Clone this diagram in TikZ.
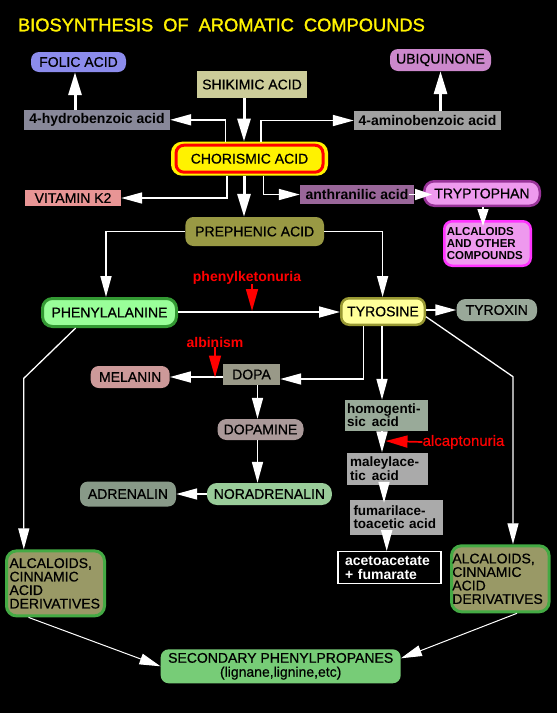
\documentclass[tikz,border=0pt]{standalone}
\usepackage{fontspec}
\setmainfont{Liberation Sans}
\newfontfamily\heavy[FakeBold=0.6]{Liberation Sans}
\newfontfamily\titlefont[FakeBold=1.6]{Liberation Sans}
\usetikzlibrary{arrows.meta,calc}
\definecolor{cFolic}{HTML}{8C8CEC}
\definecolor{cUbi}{HTML}{CC88CC}
\definecolor{cShik}{HTML}{CCCC99}
\definecolor{cHydro}{HTML}{888899}
\definecolor{cAmino}{HTML}{A0A0A0}
\definecolor{cVitK}{HTML}{E89595}
\definecolor{cAnth}{HTML}{996699}
\definecolor{cTryF}{HTML}{EE99EE}
\definecolor{cTryB}{HTML}{993399}
\definecolor{cAlcOB}{HTML}{FF33FF}
\definecolor{cPreph}{HTML}{999944}
\definecolor{cPheF}{HTML}{99FF99}
\definecolor{cPheB}{HTML}{339933}
\definecolor{cTyrF}{HTML}{FFFF99}
\definecolor{cTyrB}{HTML}{999933}
\definecolor{cTyrx}{HTML}{99A899}
\definecolor{cMel}{HTML}{CC9999}
\definecolor{cDopa}{HTML}{999988}
\definecolor{cDopam}{HTML}{AA9999}
\definecolor{cNor}{HTML}{99CC99}
\definecolor{cAdr}{HTML}{889988}
\definecolor{cHomog}{HTML}{99AA99}
\definecolor{cGray}{HTML}{AAAAAA}
\definecolor{cAlcF}{HTML}{999966}
\definecolor{cAlcB}{HTML}{44AA44}
\definecolor{cSec}{HTML}{77CC77}
\tikzset{
  lbl/.style={inner sep=0pt, text=black, font=\heavy\fontsize{14}{14}\selectfont},
  lcb/.style={lbl, font=\fontsize{14}{14}\selectfont\bfseries},
  rbox/.style={lbl, rounded corners=8pt},
  multi/.style={align=left, font=\fontsize{13.5}{13.3}\selectfont\bfseries},
  redlbl/.style={inner sep=0pt, text=red, font=\fontsize{14}{14}\selectfont\bfseries},
  conn/.style={white, line width=1.7pt},
  arr/.style={conn, -{Triangle[length=21pt,width=11pt]}},
  arrS/.style={conn, -{Triangle[length=17pt,width=11pt]}},
  bigarr/.style={white, line width=3pt, -{Triangle[length=23pt,width=13pt]}},
  redarr/.style={red, line width=1.7pt, -{Triangle[length=22pt,width=12pt]}}
}
\begin{document}
\begin{tikzpicture}[x=1pt,y=-1pt]
\fill[black] (0,0) rectangle (557,713);
\useasboundingbox (0,0) rectangle (557,713);

% title
\node[anchor=west, inner sep=0pt, text=yellow, font=\titlefont\fontsize{18.3}{20}\selectfont] (title) at (17.8,25)
  {BIOSYNTHESIS\hspace{10pt}OF\hspace{10pt}AROMATIC\hspace{10pt}COMPOUNDS};

% top row
\node[rbox, fill=cFolic, minimum width=95pt, minimum height=20pt] (folic) at (78.5,62) {FOLIC ACID};
\node[rbox, fill=cUbi, minimum width=101pt, minimum height=22pt] (ubiq) at (440.5,60) {UBIQUINONE};
\node[lbl, fill=cShik, minimum width=110pt, minimum height=27pt] (shik) at (252,84.5) {SHIKIMIC ACID};
\node[lcb, fill=cHydro, minimum width=146pt, minimum height=19.5pt] (hydro) at (97,119.8) {4-hydrobenzoic acid};
\node[lcb, fill=cAmino, minimum width=147pt, minimum height=19pt] (amino) at (427.5,120.5) {4-aminobenzoic acid};

% chorismic
\node[fill=yellow, rounded corners=11pt, minimum width=157pt, minimum height=34pt, inner sep=0pt] (chorbg) at (249.5,158.7) {};
\node[lbl, draw=red, line width=3pt, fill=yellow, rounded corners=8pt, minimum width=147pt, minimum height=27pt] (chor) at (249.5,158.7) {CHORISMIC ACID};

\node[lbl, fill=cVitK, minimum width=96pt, minimum height=16pt] (vitk) at (73,198) {VITAMIN K2};
\node[lcb, fill=cAnth, minimum width=114pt, minimum height=19pt] (anth) at (357,194.5) {anthranilic acid};
\node[rbox, fill=cTryF, draw=cTryB, line width=2.5pt, rounded corners=10pt, minimum width=115.5pt, minimum height=24.5pt] (tryp) at (482,193.5) {TRYPTOPHAN};
\node[rbox, fill=cTryF, draw=cAlcOB, line width=2.5pt, minimum width=86.5pt, minimum height=44.5pt, text width=81.5pt, align=left, font=\fontsize{11.5}{12.3}\selectfont\bfseries] (alcoth) at (487.5,243.5) {ALCALOIDS\\AND OTHER\\COMPOUNDS};

\node[rbox, fill=cPreph, minimum width=138.6pt, minimum height=29pt] (preph) at (254.7,231.5) {PREPHENIC ACID};

% phenylalanine / tyrosine row
\node[rbox, fill=cPheF, draw=cPheB, line width=3pt, rounded corners=10pt, minimum width=134pt, minimum height=28pt] (phe) at (109.5,312.5) {PHENYLALANINE};
\node[rbox, fill=cTyrF, draw=cTyrB, line width=2.5pt, minimum width=83.5pt, minimum height=26.5pt] (tyr) at (383,311.5) {TYROSINE};
\node[rbox, fill=cTyrx, rounded corners=9pt, minimum width=80.5pt, minimum height=22pt] (tyrx) at (496.75,310) {TYROXIN};

\node[redlbl] (pku) at (247,277.5) {phenylketonuria};
\node[redlbl] (alb) at (215,342) {albinism};
\node[redlbl, font=\heavy\fontsize{15}{15}\selectfont] (alcap) at (463.5,442) {alcaptonuria};

% catecholamines
\node[rbox, fill=cMel, minimum width=79pt, minimum height=22pt] (melanin) at (130.2,377) {MELANIN};
\node[lbl, fill=cDopa, minimum width=57pt, minimum height=21pt] (dopa) at (251.5,374.5) {DOPA};
\node[rbox, fill=cDopam, rounded corners=9pt, minimum width=86pt, minimum height=21pt] (dopamine) at (260.5,429.5) {DOPAMINE};
\node[rbox, fill=cNor, rounded corners=10pt, minimum width=125pt, minimum height=22pt] (nor) at (269.4,494) {NORADRENALIN};
\node[rbox, fill=cAdr, minimum width=96pt, minimum height=25pt] (adr) at (128,494) {ADRENALIN};

% homogentisic pathway
\node[lbl, multi, fill=cHomog, minimum width=83pt, minimum height=31pt, text width=79pt] (homog) at (386.5,415.5) {homogenti-\\sic\hspace{6pt}acid};
\node[lbl, multi, fill=cGray, minimum width=80.6pt, minimum height=32.3pt, text width=75pt] (maley) at (387.7,468.8) {maleylace-\\tic\hspace{6pt}acid};
\node[lbl, multi, fill=cGray, minimum width=93pt, minimum height=35pt, text width=86pt] (fumar) at (396.5,517.5) {fumarilace-\\toacetic acid};
\node[lbl, align=left, text=white, draw=white, line width=1.3pt, minimum width=103pt, minimum height=31.6pt, text width=89pt, font=\fontsize{14}{14}\selectfont\bfseries] (aceto) at (389.5,567.5) {acetoacetate\\+ fumarate};

% alcaloids and secondary
\node[rbox, fill=cAlcF, draw=cAlcB, line width=3pt, rounded corners=10pt, minimum width=98pt, minimum height=65pt, text width=92pt, align=left, font=\heavy\fontsize{14}{13.5}\selectfont] (alcL) at (55.5,583.4) {ALCALOIDS,\\CINNAMIC\\ACID\\DERIVATIVES};
\node[rbox, fill=cAlcF, draw=cAlcB, line width=3pt, rounded corners=10pt, minimum width=97.6pt, minimum height=66pt, text width=96pt, align=left, font=\heavy\fontsize{14}{13.5}\selectfont] (alcR) at (500.3,578.8) {ALCALOIDS,\\CINNAMIC\\ACID\\DERIVATIVES};
\node[rbox, fill=cSec, minimum width=240pt, minimum height=34pt, align=center, font=\heavy\fontsize{14}{14}\selectfont] (sec) at (280.7,666.3) {SECONDARY PHENYLPROPANES\\(lignane,lignine,etc)\hspace{18pt}};

% helper coordinates
\coordinate (mx) at (244,0);
\coordinate (cl) at (225.6,0);
\coordinate (cr) at (261,0);
\coordinate (cl2) at (227,0);
\coordinate (cr2) at (263.6,0);
\coordinate (fx) at (75,0);
\coordinate (tx) at (483,0);
\coordinate (px) at (106,0);
\coordinate (py) at (382.6,0);
\coordinate (ph) at (0,312);
\coordinate (tl) at (363.4,0);
\coordinate (hx) at (382,0);
\coordinate (mx2) at (384,0);
\coordinate (fx2) at (386.7,0);
\coordinate (dx) at (257.5,0);
\coordinate (pkt) at (252,311);
\coordinate (albt) at (215,377.5);
\coordinate (alct) at (385.5,441);
\coordinate (pb) at (23.8,378.3);
\coordinate (tb) at (513,376.7);

% connectors
\draw[bigarr] (shik.south -| mx) -- (chorbg.north -| mx);
\draw[arr] (chorbg.north -| cl) |- (hydro.east);
\draw[arr] (chorbg.north -| cr) |- (amino.west);
\draw[bigarr] (hydro.north -| fx) -- (folic.south -| fx);
\draw[bigarr] (amino.north -| ubiq.south) -- (ubiq.south);
\draw[arr] (chorbg.south -| cl2) |- (vitk.east);
\draw[bigarr] (chorbg.south -| mx) -- (preph.north -| mx);
\draw[arr] (chorbg.south -| cr2) |- (anth.west);
\draw[arrS] ([xshift=-5pt]anth.east) -- ([xshift=9pt]anth.east -| tryp.west);
\draw[arrS] (tryp.south -| tx) -- ([yshift=-6pt]alcoth.north -| tx);
\draw[arr] (preph.west) -| (phe.north -| px);
\draw[arr] (preph.east) -| (tyr.north -| py);
\draw[arr] (phe.east |- ph) -- (tyr.west |- ph);
\draw[arr] (tyr.east |- tyrx.west) -- (tyrx.west);
\draw[arr] (tyr.south -| tl) |- ([yshift=-4.5pt]dopa.east);
\draw[arr] (tyr.south -| hx) -- (homog.north -| hx);
\draw[arr] (dopa.west |- melanin.east) -- (melanin.east);
\draw[arr] (dopa.south -| dx) -- (dopamine.north -| dx);
\draw[arr] (dopamine.south -| dx) -- (nor.north -| dx);
\draw[arr] (nor.west) -- (adr.east);
\draw[arr] (homog.south -| hx) -- (maley.north -| hx);
\draw[arr] ([yshift=3pt]maley.south -| mx2) -- ([yshift=-3pt]fumar.north -| mx2);
\draw[arr] ([yshift=4pt]fumar.south -| fx2) -- (aceto.north -| fx2);
\draw[arr, line width=1.3pt] ([xshift=-33.8pt]phe.south) -- (pb) -- (alcL.north -| pb);
\draw[arr, line width=1.3pt] ([yshift=-5.2pt]tyr.east) -- (tb) -- (alcR.north -| tb);
\draw[arr, line width=1pt] ([xshift=-27pt]alcL.south) -- (sec.west);
\draw[arr, line width=1pt] ([xshift=16.7pt]alcR.south) -- ([yshift=8pt]sec.east);

% red inhibition arrows
\draw[redarr] (pku.south -| pkt) -- (pkt);
\draw[redarr] (alb.south -| albt) -- (albt);
\draw[redarr] (alcap.west) -- (alct);
\end{tikzpicture}
\end{document}
